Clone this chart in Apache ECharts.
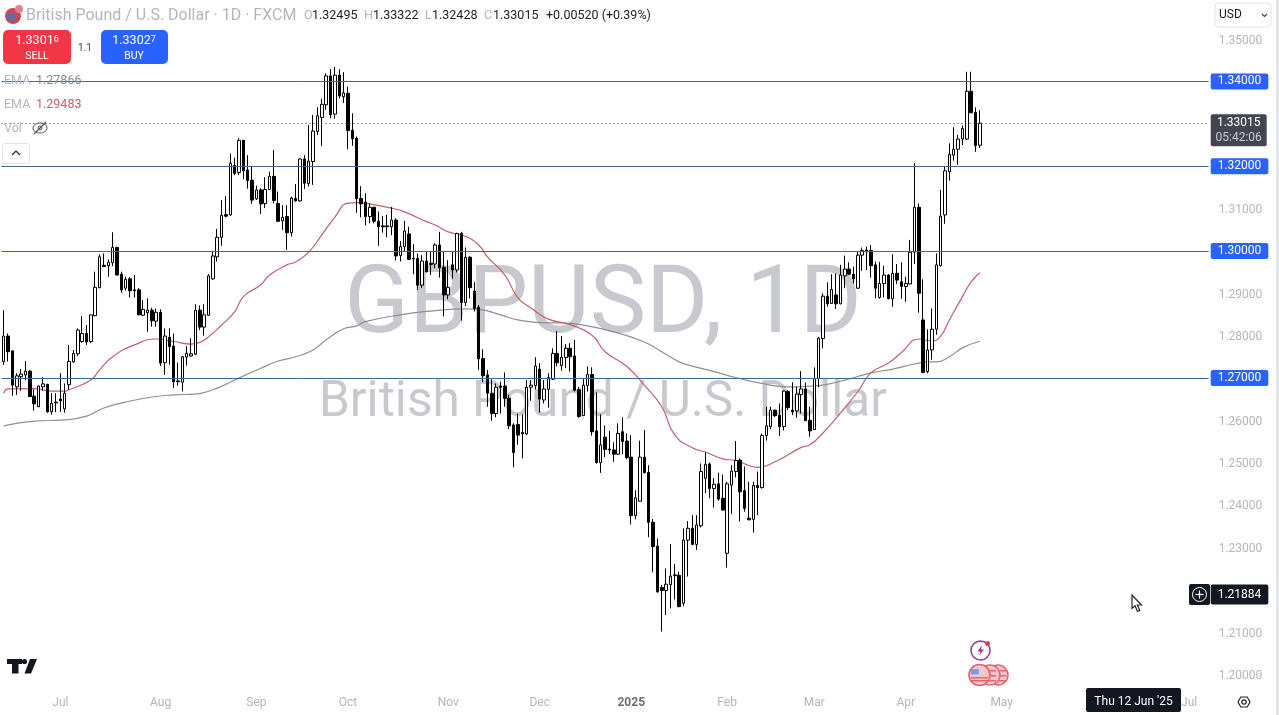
<!DOCTYPE html>
<html>
<head>
<meta charset="utf-8">
<title>GBPUSD 1D</title>
<script src="https://cdn.jsdelivr.net/npm/echarts@6/dist/echarts.min.js"></script>
<style>
  html, body { margin: 0; padding: 0; background: #fff; }
  #chart { width: 1279px; height: 715px; }
</style>
</head>
<body>
<div id="chart"></div>
<script>
const opens = [
  1.2739,1.2799,1.2764,1.2679,1.2703,1.2707,1.2716,1.2657,1.2632,1.2679,
  1.2685,1.2620,1.2641,1.2650,1.2627,1.2684,1.2738,1.2757,1.2786,1.2805,
  1.2786,1.2847,1.2913,1.2966,1.2965,1.2972,1.3008,1.2945,1.2912,1.2934,
  1.2908,1.2908,1.2848,1.2854,1.2860,1.2834,1.2855,1.2736,1.2796,1.2775,
  1.2693,1.2690,1.2749,1.2752,1.2756,1.2860,1.2820,1.2848,1.2934,1.2986,
  1.3032,1.3086,1.3085,1.3202,1.3185,1.3261,1.3191,1.3167,1.3123,1.3144,
  1.3112,1.3145,1.3176,1.3112,1.3071,1.3081,1.3043,1.3124,1.3118,1.3217,
  1.3159,1.3211,1.3282,1.3315,1.3345,1.3413,1.3323,1.3415,1.3364,1.3372,
  1.3285,1.3266,1.3124,1.3115,1.3081,1.3103,1.3070,1.3059,1.3059,1.3057,
  1.3073,1.2989,1.3010,1.3040,1.2982,1.2982,1.2919,1.2976,1.2971,1.2969,
  1.3014,1.2961,1.2896,1.2967,1.2955,1.3041,1.2878,1.2985,1.2905,1.2867,
  1.2746,1.2707,1.2664,1.2616,1.2681,1.2681,1.2652,1.2589,1.2590,1.2571,
  1.2568,1.2678,1.2682,1.2721,1.2648,1.2673,1.2697,1.2758,1.2729,1.2748,
  1.2770,1.2752,1.2673,1.2611,1.2682,1.2708,1.2575,1.2500,1.2560,1.2532,
  1.2530,1.2520,1.2573,1.2551,1.2513,1.2375,1.2409,1.2513,1.2477,1.2359,
  1.2303,1.2205,1.2198,1.2212,1.2235,1.2234,1.2168,1.2317,1.2345,1.2307,
  1.2351,1.2463,1.2497,1.2439,1.2450,1.2416,1.2286,1.2447,1.2479,1.2506,
  1.2434,1.2369,1.2366,1.2446,1.2441,1.2564,1.2585,1.2624,1.2612,1.2585,
  1.2668,1.2624,1.2622,1.2661,1.2674,1.2600,1.2578,1.2699,1.2793,1.2893,
  1.2876,1.2896,1.2875,1.2941,1.2957,1.2945,1.2912,1.2990,1.3002,1.3001,
  1.2967,1.2890,1.2923,1.2943,1.2887,1.2947,1.2927,1.2916,1.2922,1.2997,
  1.3103,1.2837,1.2715,1.2766,1.2815,1.2965,1.3085,1.3187,1.3226,1.3240,
  1.3264,1.3264,1.3377,1.3327,1.32495
]
const closes = [
  1.2799,1.2762,1.2683,1.2705,1.2709,1.2716,1.2656,1.2639,1.2681,1.2686,
  1.2620,1.2640,1.2643,1.2646,1.2664,1.2739,1.2758,1.2813,1.2805,1.2785,
  1.2849,1.2914,1.2986,1.2963,1.2973,1.3008,1.2943,1.2908,1.2933,1.2906,
  1.2906,1.2849,1.2862,1.2860,1.2835,1.2855,1.2735,1.2799,1.2774,1.2691,
  1.2691,1.2750,1.2758,1.2757,1.2860,1.2820,1.2849,1.2941,1.2988,1.3032,
  1.3084,1.3082,1.3207,1.3183,1.3261,1.3189,1.3166,1.3120,1.3144,1.3111,
  1.3145,1.3176,1.3119,1.3070,1.3079,1.3043,1.3125,1.3118,1.3217,1.3160,
  1.3212,1.3283,1.3319,1.3346,1.3413,1.3321,1.3415,1.3366,1.3373,1.3284,
  1.3265,1.3123,1.3111,1.3081,1.3103,1.3070,1.3057,1.3057,1.3057,1.3073,
  1.2988,1.3010,1.3047,1.2980,1.2981,1.2919,1.2976,1.2951,1.2968,1.3014,
  1.2960,1.2896,1.2914,1.2955,1.3041,1.2878,1.2985,1.2913,1.2864,1.2745,
  1.2705,1.2664,1.2616,1.2678,1.2678,1.2652,1.2587,1.2524,1.2565,1.2568,
  1.2678,1.2683,1.2728,1.2650,1.2674,1.2701,1.2758,1.2736,1.2749,1.2770,
  1.2750,1.2671,1.2609,1.2683,1.2708,1.2573,1.2500,1.2542,1.2531,1.2530,
  1.2520,1.2569,1.2550,1.2512,1.2375,1.2417,1.2513,1.2476,1.2359,1.2302,
  1.2195,1.2198,1.2213,1.2232,1.2233,1.2160,1.2317,1.2345,1.2307,1.2353,
  1.2479,1.2496,1.2439,1.2449,1.2414,1.2388,1.2450,1.2480,1.2505,1.2431,
  1.2392,1.2365,1.2446,1.2441,1.2564,1.2587,1.2624,1.2611,1.2585,1.2669,
  1.2630,1.2620,1.2662,1.2674,1.2599,1.2575,1.2699,1.2794,1.2893,1.2875,
  1.2909,1.2875,1.2943,1.2957,1.2945,1.2934,1.2990,1.3001,1.2999,1.2965,
  1.2912,1.2923,1.2943,1.2887,1.2947,1.2931,1.2916,1.2923,1.2997,1.3103,
  1.2900,1.2713,1.2766,1.2815,1.2967,1.3082,1.3189,1.3228,1.3240,1.3264,
  1.3289,1.3377,1.3326,1.3249,1.33015
]
const lows = [
  1.2731,1.2739,1.2658,1.2660,1.2670,1.2695,1.2655,1.2623,1.2631,1.2670,
  1.2618,1.2613,1.2619,1.2620,1.2618,1.2672,1.2736,1.2752,1.2783,1.2778,
  1.2782,1.2846,1.2912,1.2962,1.2939,1.2964,1.2942,1.2901,1.2906,1.2890,
  1.2890,1.2848,1.2846,1.2809,1.2821,1.2821,1.2728,1.2707,1.2731,1.2676,
  1.2682,1.2668,1.2729,1.2750,1.2754,1.2813,1.2800,1.2847,1.2932,1.2975,
  1.3012,1.3079,1.3083,1.3179,1.3179,1.3169,1.3147,1.3111,1.3120,1.3087,
  1.3101,1.3144,1.3112,1.3068,1.3049,1.3002,1.3034,1.3116,1.3116,1.3146,
  1.3152,1.3156,1.3274,1.3248,1.3333,1.3313,1.3312,1.3360,1.3349,1.3240,
  1.3248,1.3090,1.3079,1.3060,1.3065,1.3065,1.3012,1.3043,1.3032,1.3037,
  1.2977,1.2975,1.2998,1.2978,1.2945,1.2908,1.2912,1.2949,1.2943,1.2959,
  1.2937,1.2845,1.2886,1.2934,1.2949,1.2835,1.2870,1.2888,1.2857,1.2719,
  1.2690,1.2632,1.2599,1.2607,1.2616,1.2632,1.2579,1.2489,1.2542,1.2510,
  1.2565,1.2646,1.2673,1.2618,1.2640,1.2630,1.2695,1.2727,1.2717,1.2723,
  1.2715,1.2668,1.2606,1.2610,1.2668,1.2564,1.2498,1.2476,1.2513,1.2520,
  1.2502,1.2518,1.2520,1.2508,1.2354,1.2366,1.2408,1.2475,1.2324,1.2241,
  1.2193,1.2101,1.2140,1.2156,1.2177,1.2160,1.2161,1.2231,1.2305,1.2294,
  1.2347,1.2428,1.2416,1.2394,1.2410,1.2387,1.2252,1.2379,1.2465,1.2361,
  1.2384,1.2364,1.2335,1.2376,1.2439,1.2552,1.2579,1.2608,1.2563,1.2576,
  1.2624,1.2612,1.2606,1.2616,1.2599,1.2561,1.2577,1.2678,1.2770,1.2868,
  1.2875,1.2863,1.2874,1.2912,1.2943,1.2923,1.2910,1.2953,1.2955,1.2937,
  1.2888,1.2887,1.2890,1.2886,1.2868,1.2922,1.2887,1.2880,1.2921,1.2969,
  1.2854,1.2711,1.2711,1.2743,1.2802,1.2963,1.3064,1.3166,1.3213,1.3203,
  1.3250,1.3262,1.3326,1.3234,1.32428
]
const highs = [
  1.2860,1.2805,1.2764,1.2711,1.2721,1.2740,1.2719,1.2673,1.2682,1.2702,
  1.2686,1.2664,1.2664,1.2711,1.2687,1.2778,1.2766,1.2817,1.2846,1.2825,
  1.2849,1.2951,1.2992,1.2994,1.2980,1.3044,1.3010,1.2951,1.2939,1.2938,
  1.2943,1.2912,1.2884,1.2888,1.2866,1.2864,1.2862,1.2817,1.2817,1.2805,
  1.2736,1.2752,1.2775,1.2794,1.2874,1.2871,1.2874,1.2945,1.3000,1.3052,
  1.3120,1.3130,1.3230,1.3220,1.3266,1.3262,1.3226,1.3199,1.3154,1.3148,
  1.3174,1.3187,1.3238,1.3140,1.3108,1.3108,1.3128,1.3158,1.3219,1.3226,
  1.3297,1.3321,1.3339,1.3359,1.3419,1.3429,1.3434,1.3429,1.3422,1.3388,
  1.3325,1.3270,1.3153,1.3136,1.3112,1.3104,1.3093,1.3082,1.3085,1.3104,
  1.3077,1.3023,1.3071,1.3057,1.3016,1.2994,1.2990,1.3000,1.3000,1.3018,
  1.3045,1.3000,1.2978,1.3000,1.3043,1.3045,1.3008,1.2988,1.2927,1.2872,
  1.2768,1.2719,1.2697,1.2687,1.2691,1.2713,1.2660,1.2593,1.2616,1.2614,
  1.2695,1.2695,1.2749,1.2735,1.2695,1.2711,1.2770,1.2811,1.2799,1.2780,
  1.2782,1.2790,1.2679,1.2699,1.2727,1.2725,1.2666,1.2614,1.2588,1.2575,
  1.2548,1.2593,1.2607,1.2569,1.2565,1.2435,1.2552,1.2577,1.2494,1.2367,
  1.2321,1.2211,1.2250,1.2308,1.2261,1.2242,1.2345,1.2362,1.2376,1.2376,
  1.2498,1.2524,1.2500,1.2463,1.2476,1.2472,1.2455,1.2494,1.2551,1.2510,
  1.2491,1.2455,1.2455,1.2479,1.2569,1.2632,1.2632,1.2625,1.2640,1.2670,
  1.2671,1.2690,1.2679,1.2716,1.2689,1.2632,1.2725,1.2797,1.2900,1.2926,
  1.2945,1.2947,1.2967,1.2989,1.2973,1.2963,1.2998,1.3008,1.3010,1.3014,
  1.2975,1.2974,1.2965,1.2945,1.2992,1.2969,1.2973,1.2939,1.3026,1.3207,
  1.3112,1.2933,1.2815,1.2864,1.2994,1.3144,1.3199,1.3254,1.3292,1.3274,
  1.3296,1.3423,1.3423,1.3339,1.33322
]

// EMA lines at the bends only
const ema50Bars = [0,1,7,11,14,15,20,22,25,30,35,39,43,45,47,50,53,55,59,61,65,67,70,73,76,79,81,84,89,92,97,99,102,106,109,111,115,118,121,125,130,135,138,143,147,151,154,158,161,165,168,173,177,183,185,188,192,196,199,203,206,210,213,215,217,220,222,224]
const ema50Values = [1.2664,1.2674,1.2675,1.2669,1.2669,1.2672,1.2695,1.2719,1.2750,1.2778,1.2792,1.2786,1.2780,1.2784,1.2797,1.2825,1.2856,1.2892,1.2920,1.2943,1.2967,1.2974,1.2997,1.3038,1.3080,1.3113,1.3114,1.3111,1.3101,1.3092,1.3069,1.3061,1.3045,1.3034,1.3014,1.2986,1.2943,1.2889,1.2865,1.2839,1.2826,1.2801,1.2762,1.2727,1.2683,1.2632,1.2565,1.2535,1.2525,1.2509,1.2505,1.2489,1.2502,1.2536,1.2542,1.2570,1.2617,1.2668,1.2712,1.2735,1.2760,1.2792,1.2787,1.2799,1.2837,1.2892,1.2927,1.29483]
const ema200Bars = [0,7,14,19,23,28,34,39,44,48,51,54,59,63,67,71,74,78,81,83,91,98,106,109,114,118,125,128,134,141,147,151,155,157,163,168,174,180,187,193,199,204,209,213,214,217,220,224]
const ema200Values = [1.2587,1.2598,1.2601,1.2610,1.2629,1.2643,1.2655,1.2660,1.2662,1.2672,1.2685,1.2700,1.2723,1.2740,1.2750,1.2766,1.2790,1.2816,1.2823,1.2833,1.2849,1.2858,1.2863,1.2862,1.2849,1.2837,1.2830,1.2830,1.2823,1.2806,1.2785,1.2762,1.2738,1.2731,1.2715,1.2701,1.2687,1.2679,1.2682,1.2695,1.2712,1.2721,1.2733,1.2738,1.2738,1.2750,1.2771,1.27866]

const levelPrices = [1.34, 1.32, 1.30, 1.27]
const lastPrice = 1.33015
const countdown = '05:42:06'
const crosshairPrice = 1.21884
const crosshairDate = "Thu 12 Jun '25"
const axisPrices = [1.35, 1.31, 1.29, 1.28, 1.26, 1.25, 1.24, 1.23, 1.21, 1.20]

const monthBars = [13, 36, 58, 79, 102, 123, 144, 166, 186, 207, 229, 272]
const monthNames = ['Jul', 'Aug', 'Sep', 'Oct', 'Nov', 'Dec', '2025', 'Feb', 'Mar', 'Apr', 'May', 'Jul']
const barSlots = 277 // bars plus the empty space to the right of the last one

const FONT = 'Roboto, "Liberation Sans", sans-serif'
const GREY = '#b2b5be'
const LEVEL_BLUE = '#2962ff'

const categories = []
for (let i = 0; i < barSlots; i++) {
  const m = monthBars.indexOf(i)
  categories.push(m >= 0 ? monthNames[m] : '')
}
const candles = opens.map((o, i) => [o, closes[i], lows[i], highs[i]])

function text(x, y, str, fill, size, extra) {
  return {
    type: 'text', x, y: y + 1, z: 100, silent: true,
    style: Object.assign({ text: str, fill, fontSize: size, fontFamily: FONT, textVerticalAlign: 'middle' }, extra)
  }
}
function rect(x, y, w, h, fill, r, stroke) {
  return {
    type: 'rect', z: 99, silent: true,
    shape: { x, y, width: w, height: h, r: r || 0 },
    style: { fill, stroke: stroke || null }
  }
}
function circle(cx, cy, r, fill, stroke, lw) {
  return {
    type: 'circle', z: 99, silent: true,
    shape: { cx, cy, r },
    style: { fill, stroke: stroke || null, lineWidth: lw || 1 }
  }
}
function poly(points, fill, stroke, closed) {
  return {
    type: closed === false ? 'polyline' : 'polygon', z: 99, silent: true,
    shape: { points },
    style: { fill: closed === false ? null : fill, stroke: stroke || null, lineWidth: 1.2 }
  }
}
function priceRich() {
  return { a: { fontSize: 12.5, fill: '#fff', fontFamily: FONT }, b: { fontSize: 9, fill: '#fff', fontFamily: FONT, padding: [0, 0, 3, 0] } }
}

const overlay = [
  // watermark, under the candles
  { type: 'text', z: 0, silent: true, x: 603, y: 308,
    style: { text: 'GBPUSD, 1D', fill: '#c7c9ce', fontSize: 95, fontFamily: FONT, textAlign: 'center', textVerticalAlign: 'middle' } },
  { type: 'text', z: 0, silent: true, x: 603, y: 404,
    style: { text: 'British Pound / U.S. Dollar', fill: '#c7c9ce', fontSize: 49.5, fontFamily: FONT, textAlign: 'center', textVerticalAlign: 'middle' } },

  // symbol logo
  circle(13, 16, 8, '#c9495a'),
  circle(11, 17, 4, '#5b6fa8'),
  circle(19, 9, 4, '#e8808a'),
  text(26, 15, 'British Pound / U.S. Dollar · 1D · FXCM', GREY, 16),
  text(304, 15, 'O', GREY, 12.5), text(312, 15, '1.32495', '#222', 12.5),
  text(364, 15, 'H', GREY, 12.5), text(373, 15, '1.33322', '#222', 12.5),
  text(425, 15, 'L', GREY, 12.5), text(432, 15, '1.32428', '#222', 12.5),
  text(484, 15, 'C', GREY, 12.5), text(493, 15, '1.33015', '#222', 12.5),
  text(546, 15, '+0.00520 (+0.39%)', '#222', 12.5),

  // sell / buy
  rect(3, 30, 68, 34, '#f23645', 5),
  text(37, 40, '{a|1.3301}{b|6}', '#fff', 12.5, { textAlign: 'center', rich: priceRich() }),
  text(37, 55, 'SELL', '#fff', 10.5, { textAlign: 'center' }),
  text(85, 47, '1.1', '#444', 10, { textAlign: 'center' }),
  rect(101, 30, 67, 34, LEVEL_BLUE, 5),
  text(134, 40, '{a|1.3302}{b|7}', '#fff', 12.5, { textAlign: 'center', rich: priceRich() }),
  text(134, 55, 'BUY', '#fff', 10.5, { textAlign: 'center' }),

  // indicator legend
  text(4, 80, 'EMA', GREY, 12.5), text(36, 80, '1.27866', '#868993', 12.5),
  text(4, 104, 'EMA', GREY, 12.5), text(36, 104, '1.29483', '#c4606b', 12.5),
  text(4, 128, 'Vol', GREY, 12.5),
  { type: 'ellipse', z: 99, silent: true, shape: { cx: 40, cy: 128, rx: 7, ry: 5 }, style: { fill: 'none', stroke: '#555', lineWidth: 1 } },
  circle(40, 128, 2, 'none', '#555', 1),
  poly([[34, 134], [46, 122]], null, '#555', false),
  rect(2.5, 143.5, 27, 20, '#fff', 2, '#e0e3eb'),
  poly([[12, 155], [16, 151], [20, 155]], null, '#222', false),

  // price scale furniture
  rect(1215, 3, 56, 24, '#fff', 4, '#e0e3eb'),
  text(1219, 14, 'USD', '#131722', 12),
  poly([[1262, 14], [1264.5, 16.5], [1267, 14]], null, '#444', false),
  { type: 'rect', z: 99, silent: true, shape: { x: 1276, y: 0, width: 3, height: 715 }, style: { fill: '#e4e5e8' } },

  // crosshair
  rect(1189, 584, 21, 21, '#131722', 2),
  circle(1199.5, 594.5, 7, 'none', '#fff', 1),
  poly([[1199.5, 590.5], [1199.5, 598.5]], null, '#fff', false),
  poly([[1195.5, 594.5], [1203.5, 594.5]], null, '#fff', false),
  rect(1086, 688, 95, 24, '#131722', 2),
  text(1133.5, 701, crosshairDate, '#fff', 12, { textAlign: 'center' }),

  // settings hexagon
  poly([[1238, 702], [1240.8, 697], [1247.2, 697], [1250, 702], [1247.2, 707], [1240.8, 707]], 'none', '#222'),
  circle(1244, 702, 2.2, 'none', '#222', 1.2),

  // tradingview logo
  poly([[7, 659], [22, 659], [22, 664], [18.5, 664], [18.5, 673.5], [12, 673.5], [12, 664], [7, 664]], '#131722'),
  circle(24.5, 661.5, 2.6, '#131722'),
  poly([[30, 659], [37, 659], [31, 673.5], [24.5, 673.5]], '#131722'),

  // event icons
  circle(980.5, 650.5, 9.5, '#fff', '#8e3fa6', 1.6),
  poly([[982, 645], [977.5, 651.5], [980.5, 651.5], [979, 656], [984, 649.5], [981, 649.5]], '#8e3fa6'),
  circle(987.5, 643.5, 2.5, '#d64552'),
  circle(998, 675, 10, '#f6c8cb', '#e0656f', 1.5),
  rect(992, 670, 14, 1.5, '#e0656f'),
  rect(992, 675, 14, 1.5, '#e0656f'),
  rect(992, 680, 14, 1.5, '#e0656f'),
  circle(990, 675, 10, '#f6c8cb', '#e0656f', 1.5),
  rect(984, 670, 12, 1.5, '#e0656f'),
  rect(984, 675, 12, 1.5, '#e0656f'),
  rect(984, 680, 12, 1.5, '#e0656f'),
  circle(979.5, 675, 10.5, '#f6c8cb', '#e0656f', 1.6),
  rect(971, 669, 8, 5.5, '#6fa3e8', 1),
  rect(971, 677, 17, 1.5, '#e0656f'),
  rect(971, 680, 17, 1.5, '#e0656f'),

  // mouse cursor
  poly([[1132, 595], [1132, 608.5], [1135, 605.8], [1137.5, 611.5], [1139.8, 610.5], [1137.3, 605], [1141.5, 605]], '#fff', '#222')
]

const option = {
  animation: false,
  backgroundColor: '#fff',
  textStyle: { fontFamily: FONT },
  graphic: { elements: overlay },
  grid: { left: 1.5, top: 0, width: 1207.2, height: 688, containLabel: false },
  xAxis: {
    type: 'category',
    data: categories,
    axisLine: { show: false },
    axisTick: { show: false },
    splitLine: { show: false },
    axisLabel: {
      interval: 0,
      color: GREY,
      fontSize: 12,
      margin: 9,
      formatter: v => (v === '2025' ? '{b|2025}' : v),
      rich: { b: { color: '#6a6d78', fontSize: 12, fontWeight: 'bold', fontFamily: FONT } }
    }
  },
  yAxis: {
    type: 'value',
    position: 'right',
    scale: true,
    min: 1.19679,
    max: 1.35924,
    axisLine: { show: false },
    axisTick: { show: false },
    splitLine: { show: false },
    axisLabel: {
      customValues: axisPrices,
      margin: 10,
      formatter: v => '{v|' + v.toFixed(5) + '}',
      rich: { v: { color: GREY, fontSize: 12, fontFamily: FONT, padding: [3, 0, 0, 0] } }
    }
  },
  series: [
    {
      name: 'levels',
      type: 'line',
      z: 1,
      data: [],
      markLine: {
        silent: true,
        symbol: 'none',
        precision: 5,
        animation: false,
        lineStyle: { color: '#42688c', width: 1, type: 'solid' },
        label: {
          position: 'end',
          distance: 2,
          backgroundColor: LEVEL_BLUE,
          color: '#fff',
          fontSize: 12,
          lineHeight: 12,
          padding: [3, 7, 1, 7],
          borderRadius: 2,
          formatter: p => p.value.toFixed(5)
        },
        data: levelPrices.map(p => ({ yAxis: p }))
      }
    },
    {
      name: 'last',
      type: 'line',
      z: 1,
      data: [],
      markLine: {
        silent: true,
        symbol: 'none',
        precision: 5,
        animation: false,
        lineStyle: { color: '#333', width: 1, type: [1, 3] },
        label: {
          position: 'end',
          distance: 2,
          offset: [0, 7],
          backgroundColor: '#434651',
          padding: [1, 5],
          borderRadius: 2,
          formatter: () => '{p|' + lastPrice.toFixed(5) + '}\n{t|' + countdown + '}',
          rich: {
            p: { color: '#fff', fontSize: 12, lineHeight: 15, width: 46, align: 'center' },
            t: { color: '#c9cbd2', fontSize: 12, lineHeight: 15, width: 46, align: 'center' }
          }
        },
        data: [{ yAxis: lastPrice }]
      }
    },
    {
      name: 'crosshair',
      type: 'line',
      z: 1,
      data: [],
      markLine: {
        silent: true,
        symbol: 'none',
        precision: 5,
        animation: false,
        lineStyle: { color: 'rgba(0,0,0,0)' },
        label: {
          position: 'end',
          distance: 2,
          backgroundColor: '#131722',
          color: '#fff',
          fontSize: 12,
          lineHeight: 12,
          padding: [5, 7, 3, 7],
          borderRadius: 2,
          formatter: p => p.value.toFixed(5)
        },
        data: [{ yAxis: crosshairPrice }]
      }
    },
    {
      name: 'EMA 200',
      type: 'line',
      z: 2,
      smooth: 0.5,
      showSymbol: false,
      lineStyle: { color: '#8f8f93', width: 1.2 },
      data: ema200Bars.map((b, i) => [b, ema200Values[i]])
    },
    {
      name: 'EMA 50',
      type: 'line',
      z: 2,
      smooth: 0.5,
      showSymbol: false,
      lineStyle: { color: '#c2606a', width: 1.2 },
      data: ema50Bars.map((b, i) => [b, ema50Values[i]])
    },
    {
      name: 'GBPUSD',
      type: 'candlestick',
      z: 3,
      barWidth: 3,
      data: candles,
      itemStyle: {
        color: '#fff',
        color0: '#000',
        borderColor: '#000',
        borderColor0: '#000',
        borderWidth: 1
      }
    }
  ]
}

const chart = echarts.init(document.getElementById('chart'), null, { renderer: 'canvas' })
chart.setOption(option)
</script>
</body>
</html>
